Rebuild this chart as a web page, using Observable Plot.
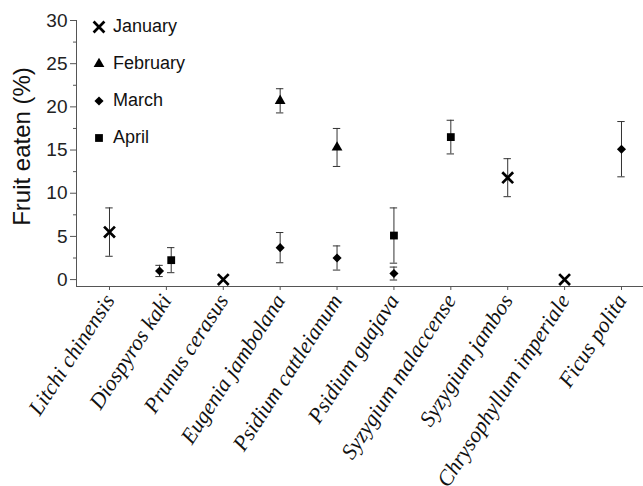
<!DOCTYPE html>
<html>
<head>
<meta charset="utf-8">
<script src="https://cdn.jsdelivr.net/npm/d3@7"></script>
<script src="https://cdn.jsdelivr.net/npm/@observablehq/plot@0.6"></script>
<style>
  body { margin: 0; background: #fff; }
  #wrap { position: relative; width: 643px; height: 486px; overflow: hidden; font-family: "Liberation Sans", Arial, sans-serif; }
  #legend { position: absolute; left: 90px; top: 8px; }
  #legend .row { display: flex; align-items: center; height: 37px; font-size: 18px; color: #111; }
  #legend svg { width: 18px; height: 18px; margin-right: 5px; }
</style>
</head>
<body>
<div id="wrap"><div id="legend"></div></div>
<script>
// Categories (x axis, in order)
const species = [
  "Litchi chinensis", "Diospyros kaki", "Prunus cerasus", "Eugenia jambolana",
  "Psidium cattleianum", "Psidium guajava", "Syzygium malaccense",
  "Syzygium jambos", "Chrysophyllum imperiale", "Ficus polita"
];
const months = ["January", "February", "March", "April"];
const monthSymbols = ["times", "triangle", "diamond2", "square"];

// Observations
const obsSpecies = [
  "Litchi chinensis", "Diospyros kaki", "Diospyros kaki", "Prunus cerasus",
  "Eugenia jambolana", "Eugenia jambolana", "Psidium cattleianum", "Psidium cattleianum",
  "Psidium guajava", "Psidium guajava", "Syzygium malaccense", "Syzygium jambos",
  "Chrysophyllum imperiale", "Ficus polita"
];
const obsMonth = [
  "January", "March", "April", "January",
  "February", "March", "February", "March",
  "April", "March", "April", "January",
  "January", "March"
];
const obsMean = [5.5, 1.0, 2.25, 0, 20.7, 3.7, 15.3, 2.5, 5.1, 0.7, 16.5, 11.8, 0, 15.1];
const obsErr  = [2.8, 0.65, 1.45, 0, 1.4, 1.75, 2.2, 1.4, 3.2, 0.75, 1.95, 2.2, 0, 3.2];
// small horizontal dodge (in category units) where two months share a species
const obsDodge = [0, -0.12, 0.085, 0, 0, 0, 0, 0, 0, 0, 0, 0, 0, 0];

const data = obsSpecies.map((s, i) => ({
  species: s,
  month: obsMonth[i],
  mean: obsMean[i],
  err: obsErr[i],
  pos: species.indexOf(s) + obsDodge[i]
}));
const withErr = data.filter(d => d.err > 0);
const cap = 0.065;
const symR = {times: 5, triangle: 4, diamond2: 4.1, square: 4.4};

const dotMarks = months.map((m, k) => {
  const sub = data.filter(d => d.month === m);
  const s = monthSymbols[k];
  if (s === "times") {
    return Plot.dot(sub, {x: "pos", y: "mean", symbol: () => s, r: symR[s], stroke: "#000", strokeWidth: 2.7, fill: "none"});
  }
  return Plot.dot(sub, {x: "pos", y: "mean", symbol: () => s, r: symR[s], fill: "#000", stroke: "none"});
});

const chart = Plot.plot({
  width: 643,
  height: 486,
  marginLeft: 76,
  marginRight: 0,
  marginTop: 20,
  marginBottom: 200,
  style: {fontFamily: "Liberation Sans, Arial, sans-serif", color: "#222", background: "transparent"},
  x: {type: "linear", domain: [-0.58, 9.387]},
  y: {domain: [-0.8, 30]},
  symbol: {type: "identity"},
  marks: [
    Plot.frame({anchor: "left", stroke: "#555"}),
    Plot.frame({anchor: "bottom", stroke: "#555"}),
    Plot.axisY({ticks: d3.range(0, 31, 5), tickSize: 6, tickPadding: 3, fontSize: 19, label: null, stroke: "#555", fill: "#222"}),
    Plot.axisY({ticks: d3.range(2.5, 30, 5), tickSize: 3, tickFormat: () => "", label: null, stroke: "#555"}),
    Plot.axisX({ticks: d3.range(species.length), tickFormat: i => species[i], tickRotate: -57, tickSize: 4, tickPadding: 6,
      fontSize: 22, fontFamily: "Liberation Serif, Times New Roman, serif", fontStyle: "italic", label: null, stroke: "#555", fill: "#111"}),
    Plot.text(["Fruit eaten (%)"], {frameAnchor: "left", textAnchor: "middle", rotate: -90, dx: -54, dy: -7, fontSize: 24, fill: "#111", text: d => d}),
    Plot.ruleX(withErr, {x: "pos", y1: d => d.mean - d.err, y2: d => d.mean + d.err, stroke: "#333", strokeWidth: 1}),
    Plot.ruleY(withErr, {y: d => d.mean - d.err, x1: d => d.pos - cap, x2: d => d.pos + cap, stroke: "#333", strokeWidth: 1}),
    Plot.ruleY(withErr, {y: d => d.mean + d.err, x1: d => d.pos - cap, x2: d => d.pos + cap, stroke: "#333", strokeWidth: 1}),
    ...dotMarks
  ]
});
document.getElementById("wrap").prepend(chart);

// Legend (HTML, symbols drawn with d3.symbol at the same sizes as the marks)
const symType = {times: d3.symbolTimes, triangle: d3.symbolTriangle, diamond2: d3.symbolDiamond2, square: d3.symbolSquare};
const legend = d3.select("#legend");
months.forEach((m, k) => {
  const s = monthSymbols[k];
  const row = legend.append("div").attr("class", "row");
  const svg = row.append("svg").attr("viewBox", "-9 -9 18 18");
  const path = svg.append("path").attr("d", d3.symbol(symType[s], Math.PI * symR[s] * symR[s])());
  if (s === "times") path.attr("fill", "none").attr("stroke", "#000").attr("stroke-width", 2.7);
  else path.attr("fill", "#000");
  row.append("span").text(m);
});
</script>
</body>
</html>
